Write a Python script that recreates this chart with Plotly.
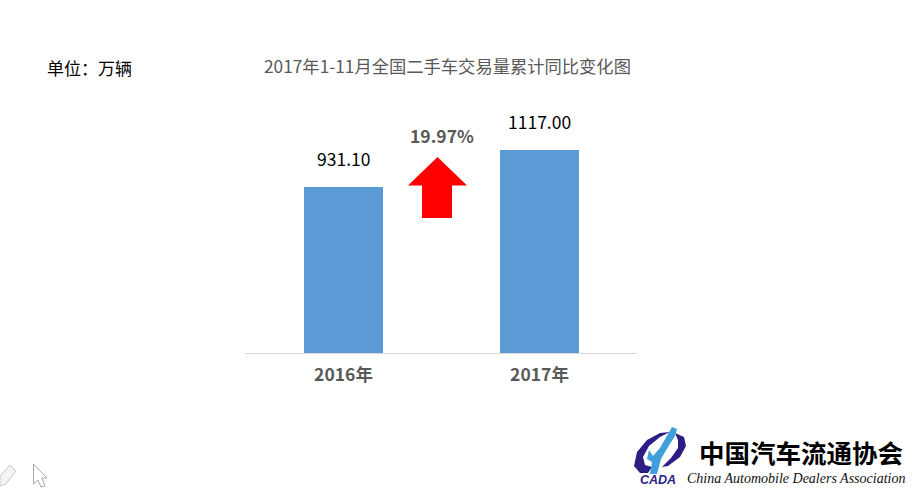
import plotly.graph_objects as go

categories = ["2016年", "2017年"]
values = [931.10, 1117.00]
value_labels = ["931.10", "1117.00"]
change_label = "19.97%"
title_text = "2017年1-11月全国二手车交易量累计同比变化图"
unit_text = "单位：万辆"
logo_cn = "中国汽车流通协会"
logo_en = "China Automobile Dealers Association"
logo_abbr = "CADA"

W, H = 913, 495
L, R, T, B = 245, 276, 90, 142
CJK = "Noto Sans CJK SC"
def px(x): return (x - L) / (W - L - R)
def py(y): return (H - B - y) / (H - T - B)
def path(points):
    return "M" + " L".join(f"{px(x):.5f},{py(y):.5f}" for x, y in points) + " Z"

fig = go.Figure(go.Bar(
    x=categories, y=values, width=0.403, marker=dict(color="#5B9BD5", line=dict(width=0)),
    hoverinfo="skip"))

shapes = [
    # up arrow
    dict(type="path", xref="paper", yref="paper", fillcolor="#FF0000", line=dict(width=0),
         path=path([(437.5,157),(467,185.5),(452,185.5),(452,218),(422,218),(422,185.5),(408,185.5)])),
    # logo ring
    dict(type="path", xref="paper", yref="paper", fillcolor="#2B1F86", line=dict(width=0),
         path=path([(634,466),(637,452),(647,440),(660,433),(670,432),(660,437),(649,446),(643,457),(645,465),(652,467),(648,473),(640,473)])),
    dict(type="path", xref="paper", yref="paper", fillcolor="#2B1F86", line=dict(width=0),
         path=path([(675,433),(684,437),(686,446),(680,457),(668,466),(662,467),(671,458),(678,448),(678,440)])),
    # logo figure
    dict(type="path", xref="paper", yref="paper", fillcolor="#3E9FDB", line=dict(width=0),
         path=path([(672,427),(677,429),(675,436),(668,447),(661,459),(657,474),(650,474),(652,462),(647,459),(649,450),(653,456),(660,448)])),
    # eraser icon
    dict(type="path", xref="paper", yref="paper", fillcolor="#F4F4F4", line=dict(width=1, color="#C8C8C8"),
         path=path([(0,476),(10,465),(16,471),(6,484),(0,486)])),
    # pointer icon
    dict(type="path", xref="paper", yref="paper", fillcolor="#FFFFFF", line=dict(width=1, color="#A8A8A8"),
         path=path([(33.5,464),(47,478),(42,478),(45,486),(41,487),(38,480),(33.5,484)])),
]

def note(x, y, text, size, color, family=CJK, anchor="center", weight=None):
    return dict(x=px(x), y=py(y), xref="paper", yref="paper", text=text, showarrow=False,
                xanchor=anchor, yanchor="middle", font=dict(family=family, size=size, color=color, weight=weight))

annotations = [
    note(447, 65.5, title_text, 17.3, "#595959"),
    note(45, 67.5, unit_text, 17, "#000000", anchor="left"),
    note(442, 135.5, change_label, 17.5, "#595959", weight="bold"),
    note(801, 451, logo_cn, 25.5, "#000000", weight="bold"),
    note(795.5, 478, "<i>" + logo_en + "</i>", 14, "#111111", family="Liberation Serif"),
    note(657.5, 480, "<b><i>" + logo_abbr + "</i></b>", 12.5, "#2B1F86", family="Liberation Sans"),
]
for c, v, t in zip(categories, values, value_labels):
    annotations.append(dict(x=c, y=v, xref="x", yref="y", text=t, showarrow=False, yanchor="middle",
                            yshift=28, font=dict(family=CJK, size=17.5, color="#000000")))

fig.update_layout(
    width=W, height=H, margin=dict(l=L, r=R, t=T, b=B),
    paper_bgcolor="#FFFFFF", plot_bgcolor="#FFFFFF", showlegend=False,
    shapes=shapes, annotations=annotations,
    xaxis=dict(range=[-0.5026, 1.4974], showgrid=False, zeroline=False, showline=True, linecolor="#D9D9D9", linewidth=1,
               ticks="", ticklabelstandoff=6, tickfont=dict(family=CJK, size=17.5, color="#595959", weight="bold")),
    yaxis=dict(range=[97, 1418], visible=False, showgrid=False),
)
fig.write_html("out.html", config={"displayModeBar": False},
               post_script="document.body.style.margin='0';document.documentElement.style.overflow='hidden';")
